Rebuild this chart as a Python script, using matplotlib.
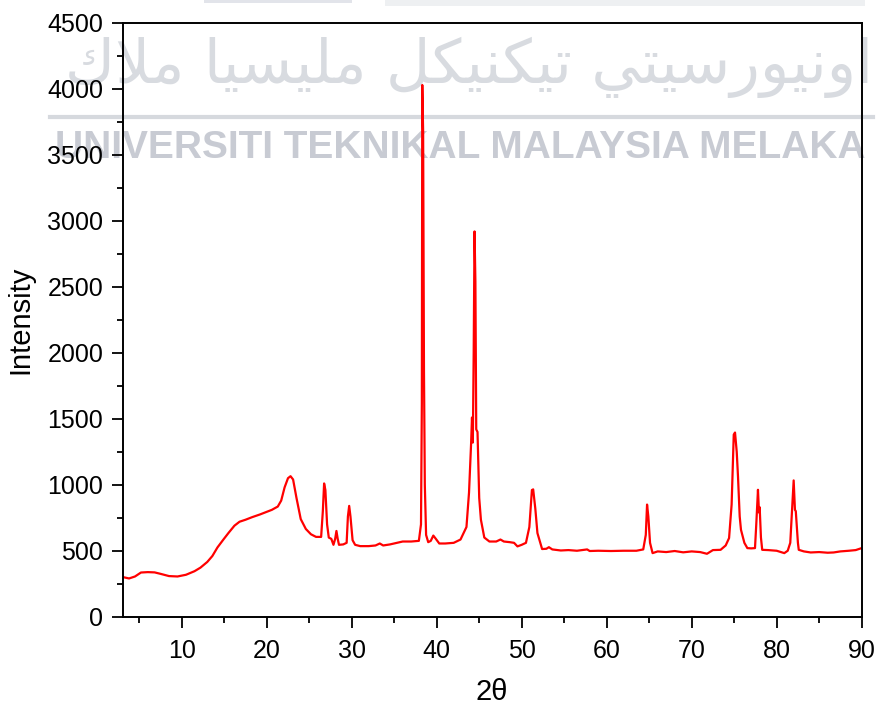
import matplotlib
matplotlib.use("Agg")
import matplotlib.pyplot as plt
from matplotlib.ticker import MultipleLocator
from matplotlib.patches import Rectangle

# XRD pattern: 2-theta (degrees) vs. intensity (counts)
two_theta = [
    3.1, 3.8, 4.5, 5.2, 6.0, 6.8, 7.5, 8.5, 9.5, 10.5,
    11.5, 12.2, 13.0, 13.6, 14.2, 14.9, 15.5, 16.2, 16.8, 17.5,
    18.3, 19.2, 20.0, 20.6, 21.3, 21.7, 22.1, 22.5, 22.8, 23.1,
    23.5, 24.0, 24.6, 25.2, 25.8, 26.4, 26.6, 26.75, 26.9, 27.1,
    27.3, 27.6, 27.85, 28.05, 28.2, 28.35, 28.5, 29.0, 29.4, 29.55,
    29.7, 29.85, 30.1, 30.4, 31.0, 32.0, 32.8, 33.3, 33.7, 34.5,
    35.3, 36.0, 37.0, 37.9, 38.15, 38.25, 38.3, 38.4, 38.5, 38.6,
    38.75, 39.0, 39.3, 39.6, 39.9, 40.3, 41.0, 42.0, 42.8, 43.5,
    43.8, 44.05, 44.15, 44.25, 44.35, 44.45, 44.55, 44.65, 44.8, 45.0,
    45.2, 45.6, 46.2, 47.0, 47.5, 47.9, 48.6, 49.1, 49.5, 50.0,
    50.5, 50.9, 51.2, 51.35, 51.6, 51.85, 52.4, 52.9, 53.2, 53.6,
    54.6, 55.5, 56.5, 57.7, 58.0, 59.0, 60.5, 62.0, 63.5, 64.3,
    64.6, 64.75, 64.9, 65.1, 65.4, 66.0, 67.0, 68.0, 69.0, 70.0,
    71.0, 71.8, 72.5, 73.4, 74.0, 74.4, 74.7, 74.95, 75.1, 75.3,
    75.45, 75.65, 75.8, 76.2, 76.55, 77.0, 77.45, 77.6, 77.8, 77.92,
    78.0, 78.15, 78.3, 79.0, 80.0, 80.9, 81.3, 81.6, 81.85, 82.0,
    82.15, 82.25, 82.5, 82.6, 83.2, 84.0, 85.0, 86.0, 86.7, 87.5,
    88.5, 89.3, 90.0,
]
intensity = [
    300, 290, 305, 335, 338, 336, 325, 308, 305, 318,
    345, 372, 415, 460, 525, 585, 635, 690, 720, 735,
    755, 775, 795, 810, 835, 880, 980, 1050, 1065, 1040,
    900, 740, 665, 625, 605, 605, 800, 1010, 960, 700,
    600, 590, 545, 590, 650, 590, 545, 548, 560, 760,
    840, 760, 580, 545, 535, 535, 540, 555, 540, 548,
    560, 570, 570, 575, 700, 1620, 4030, 3680, 1870, 1000,
    620, 565, 575, 615, 590, 555, 555, 560, 585, 680,
    940, 1320, 1510, 1320, 2000, 2920, 2540, 1420, 1400, 900,
    735, 600, 570, 570, 585, 570, 565, 560, 533, 545,
    560, 680, 960, 965, 820, 634, 513, 515, 527, 510,
    502, 505, 500, 510, 498, 500, 498, 500, 500, 510,
    620, 850, 760, 560, 482, 495, 490, 498, 488, 495,
    490, 477, 505, 507, 540, 596, 850, 1380, 1396, 1250,
    1063, 760, 659, 560, 520, 518, 520, 700, 962, 790,
    830, 600, 507, 505, 500, 482, 500, 560, 850, 1033,
    810, 800, 560, 507, 495, 487, 490, 485, 487, 495,
    500, 505, 520,
]

x_ticks = [10, 20, 30, 40, 50, 60, 70, 80, 90]
y_ticks = [0, 500, 1000, 1500, 2000, 2500, 3000, 3500, 4000, 4500]

plt.rcParams["font.family"] = ["Liberation Sans", "DejaVu Sans"]

fig = plt.figure(figsize=(8.77, 7.11), dpi=100)
fig.patch.set_facecolor("white")

# faint university watermark behind the plot
fig.patches.append(Rectangle((385 / 877, 1 - 6 / 711), 480 / 877, 6 / 711,
                             transform=fig.transFigure, facecolor="#eef0f2",
                             edgecolor="none", zorder=-3))
fig.patches.append(Rectangle((204 / 877, 1 - 3 / 711), 148 / 877, 3 / 711,
                             transform=fig.transFigure, facecolor="#e2e4ea",
                             edgecolor="none", zorder=-3))
jawi = ("\uFED9\uFEFC\uFEE3" + " "
        + "\uFE8E\uFEF4\uFEB4\uFEF4\uFEE0\uFEE3" + " "
        + "\uFEDE\uFEDC\uFEF4\uFEE8\uFEDC\uFEF4\uFE97" + " "
        + "\uFEF2\uFE98\uFEF4\uFEB3\uFEAD\uFEEE\uFEF4\uFEE7\uFEED\uFE8D")
fig.text(0.535, 0.905, jawi, family="DejaVu Sans", fontsize=44, color="#d8dbe0",
         ha="center", va="center", zorder=-2)
fig.add_artist(plt.Line2D([50 / 877, 0.995], [1 - 117 / 711, 1 - 117 / 711],
                          transform=fig.transFigure, color="#d6d9de", lw=3,
                          zorder=-2))
fig.text(460 / 877, 1 - 148 / 711, "UNIVERSITI TEKNIKAL MALAYSIA MELAKA",
         fontsize=28, fontweight="bold", color="#c8cbd3", ha="center",
         va="center", zorder=-2)

ax = fig.add_axes([0.1399, 0.1326, 0.8426, 0.8351])
ax.patch.set_alpha(0)

ax.plot(two_theta, intensity, color="#ff0000", lw=1.6)

ax.set_xlim(3.05, 90)
ax.set_ylim(0, 4500)
ax.set_xticks(x_ticks)
ax.set_yticks(y_ticks)
ax.xaxis.set_minor_locator(MultipleLocator(5))
ax.yaxis.set_minor_locator(MultipleLocator(250))

for side in ["left", "bottom", "top", "right"]:
    ax.spines[side].set_linewidth(1.4)
    ax.spines[side].set_color("black")

ax.tick_params(which="major", direction="out", length=8, width=1.3,
               labelsize=18, pad=6, top=False, right=False)
ax.tick_params(axis="x", which="major", pad=8)
ax.tick_params(which="minor", direction="out", length=4.5, width=1.3,
               top=False, right=False)

ax.set_xlabel("2\u03b8", fontsize=21, labelpad=11)
ax.set_ylabel("Intensity", fontsize=21, labelpad=9)

fig.savefig("out.png", dpi=100, facecolor="white")
